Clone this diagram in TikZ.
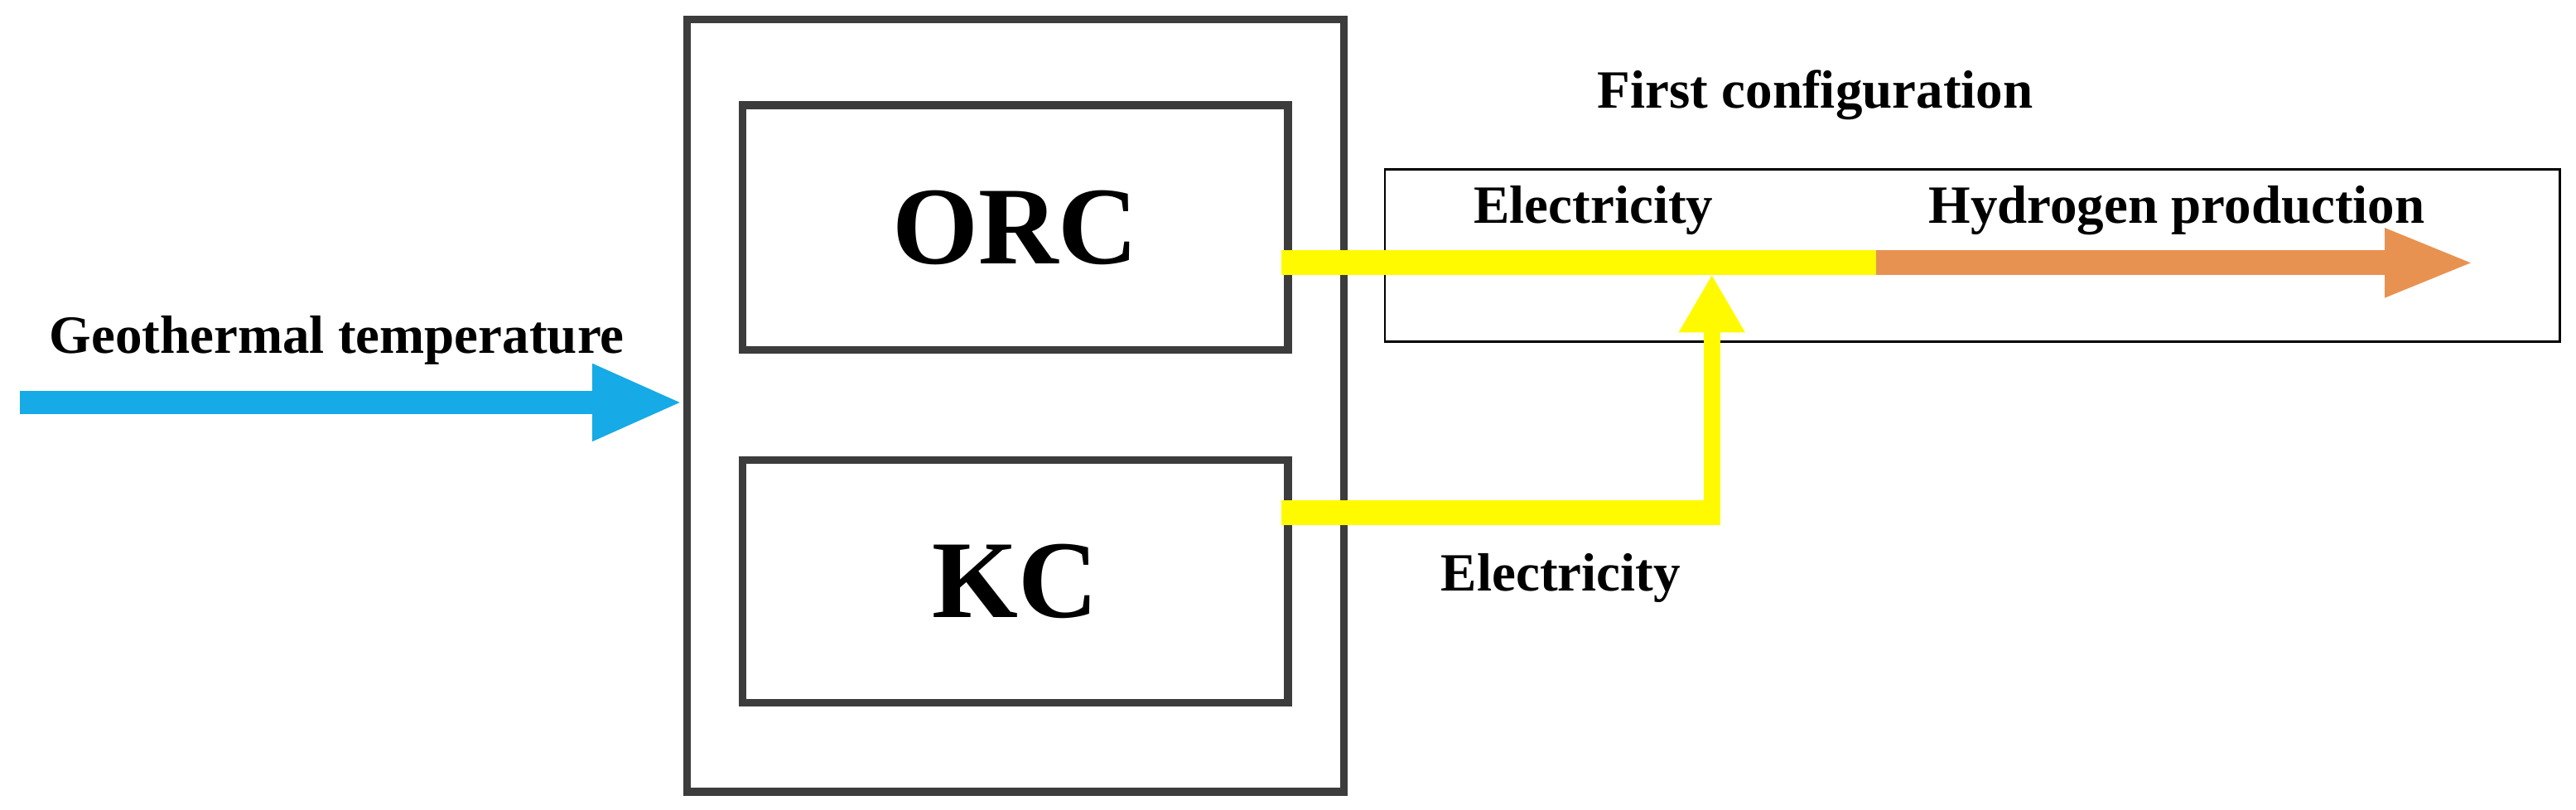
\documentclass[tikz,border=0pt]{standalone}
\usepackage{fontspec}
\setmainfont{Liberation Serif}
\usetikzlibrary{arrows.meta}
\definecolor{geoblue}{RGB}{22,170,230}
\definecolor{elecyellow}{RGB}{255,250,0}
\definecolor{hydorange}{RGB}{232,146,82}
\definecolor{boxgray}{RGB}{60,60,60}

\tikzset{
    unit/.style={draw=boxgray, line width=2.6pt},
    label/.style={font=\bfseries\fontsize{18.5}{21}\selectfont},
    cycle/.style={font=\bfseries\fontsize{38}{42}\selectfont}
}

\begin{document}
\begin{tikzpicture}[x=0.01983cm, y=-0.01983cm]
    \useasboundingbox (0,0) rectangle (1568,493);
    \begin{scope} % Plant boxes
        \draw[unit] (418,12) rectangle (818,482);
        \draw[unit] (452,64) rectangle node[cycle] (orc) {ORC} (784,213);
        \draw[unit] (452,280) rectangle node[cycle] (kc) {KC} (784,428);
        \draw[line width=0.8pt] (843,103) rectangle (1558,208);
    \end{scope}
    \begin{scope} % Named points
        \coordinate (geoin) at (12,245);
        \coordinate (plant) at (416,245);
        \coordinate (orcout) at (780,160);
        \coordinate (kcout) at (780,312);
        \coordinate (join) at (1042,160);
        \coordinate (bend) at (1042,312);
        \coordinate (split) at (1142,160);
        \coordinate (hydout) at (1507,160);
    \end{scope}
    \begin{scope} % Flows
        \draw[geoblue, line width=8pt, -{Triangle[length=1.1cm,width=0.85cm]}]
            (geoin) -- (plant);
        \draw[elecyellow, line width=8.5pt] (orcout) -- (split);
        \draw[elecyellow, line width=8.5pt] (kcout) -- ([xshift=2.8pt]bend);
        \draw[elecyellow, line width=5.6pt, -{Triangle[length=0.7cm,width=0.75cm]}]
            ([yshift=-4.2pt]bend) -- ([yshift=-4pt]join);
        \draw[hydorange, line width=8.5pt, -{Triangle[length=1.1cm,width=0.75cm]}]
            (split) -- (hydout);
    \end{scope}
    \begin{scope} % Texts
        \node[label] (geotxt) at (205,207) {Geothermal temperature};
        \node[label] (conftxt) at (1105,58) {First configuration};
        \node[label] (electop) at (970,128) {Electricity};
        \node[label] (hydtxt) at (1325,128) {Hydrogen production};
        \node[label] (elecbot) at (950,352) {Electricity};
    \end{scope}
\end{tikzpicture}
\end{document}
